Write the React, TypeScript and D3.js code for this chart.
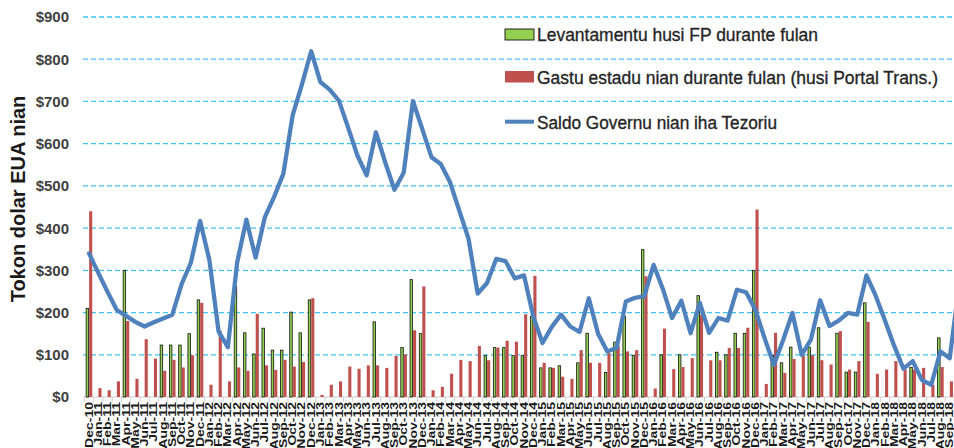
import React from "react";
import * as d3 from "d3";

const months: string[] = [
  "Dec-10",
  "Jan-11","Feb-11","Mar-11","Apr-11","May-11","Jun-11","Jul-11","Aug-11","Sep-11","Oct-11","Nov-11","Dec-11",
  "Jan-12","Feb-12","Mar-12","Apr-12","May-12","Jun-12","Jul-12","Aug-12","Sep-12","Oct-12","Nov-12","Dec-12",
  "Jan-13","Feb-13","Mar-13","Apr-13","May-13","Jun-13","Jul-13","Aug-13","Sep-13","Oct-13","Nov-13","Dec-13",
  "Jan-14","Feb-14","Mar-14","Apr-14","May-14","Jun-14","Jul-14","Aug-14","Sep-14","Oct-14","Nov-14","Dec-14",
  "Jan-15","Feb-15","Mar-15","Apr-15","May-15","Jun-15","Jul-15","Aug-15","Sep-15","Oct-15","Nov-15","Dec-15",
  "Jan-16","Feb-16","Mar-16","Apr-16","May-16","Jun-16","Jul-16","Aug-16","Sep-16","Oct-16","Nov-16","Dec-16",
  "Jan-17","Feb-17","Mar-17","Apr-17","May-17","Jun-17","Jul-17","Aug-17","Sep-17","Oct-17","Nov-17","Dec-17",
  "Jan-18","Feb-18","Mar-18","Apr-18","May-18","Jun-18","Jul-18","Aug-18","Sep-18","Oct-18",
];

// Levantamentu husi FP durante fulan (green)
const levantamentu: (number | null)[] = [
  210,
  null, null, null, 300, null, null, null, 123, 123, 123, 150, 230,
  null, null, null, 262, 152, 102, 163, 111, 111, 201, 152, 230,
  null, null, null, null, null, null, 178, null, null, 117, 278, 150,
  null, null, null, null, null, null, 98, 117, 117, 98, 98, 191,
  69, 69, 74, null, 81, 151, null, 58, 130, 191, 99, 349,
  null, 100, null, 100, null, 240, null, 106, 100, 151, 151, 300,
  null, 99, 81, 118, null, 118, 164, null, 151, 59, 59, 223,
  null, null, null, null, 70, null, null, 140, null, null,
];

// Gastu estadu nian durante fulan (red)
const gastu: (number | null)[] = [
  440,
  21, 16, 37, 180, 43, 137, 91, 62, 88, 70, 99, 223,
  29, 157, 37, 70, 62, 197, 75, 64, 88, 72, 83, 234,
  5, 29, 37, 72, 67, 75, 75, 69, 97, 101, 158, 262,
  16, 24, 55, 88, 85, 121, 87, 117, 133, 131, 196, 287,
  81, 69, 48, 43, 111, 81, 81, 104, 120, 108, 111, 286,
  20, 162, 66, 71, 92, 195, 87, 87, 116, 116, 164, 444,
  31, 152, 57, 90, 98, 99, 87, 77, 156, 65, 85, 178,
  55, 65, 85, 65, 65, 69, 29, 71, 37, null,
];

// Saldo Governu nian iha Tezoriu (blue line)
const saldo: number[] = [
  340,
  294, 249, 206, 192, 178, 167, 177, 186, 195, 267, 318, 417,
  325, 155, 118, 318, 420, 330, 426, 474, 529, 667, 740, 819,
  746, 728, 702, 638, 572, 525, 627, 556, 491, 531, 701, 635,
  568, 552, 509, 442, 375, 245, 270, 327, 322, 281, 288, 191,
  128, 166, 195, 167, 154, 234, 150, 108, 116, 226, 235, 239,
  313, 256, 187, 228, 151, 223, 152, 187, 181, 254, 248, 206,
  139, 76, 135, 199, 100, 136, 229, 168, 181, 199, 195, 288,
  240, 181, 121, 67, 85, 40, 29, 108, 92, 265,
];

const yTicks: number[] = [0, 100, 200, 300, 400, 500, 600, 700, 800, 900];
const yTitle = "Tokon dolar EUA nian";
const legendLabels: string[] = [
  "Levantamentu husi FP durante fulan",
  "Gastu estadu nian durante fulan (husi Portal Trans.)",
  "Saldo Governu nian iha Tezoriu",
];

const W = 954;
const H = 448;
const X0 = 84.4;
const STEP = 9.255;
const Y0 = 397;
const Y1 = 17;

const GREEN = "#92d050";
const RED = "#c0504d";
const BLUE = "#4f81bd";
const GRID = "#42c2f2";

export default function App() {
  const x = d3
    .scaleBand<string>()
    .domain(months)
    .range([X0, X0 + STEP * months.length])
    .padding(0);
  const y = d3.scaleLinear().domain([0, 900]).range([Y0, Y1]);
  const cx = (m: string) => (x(m) as number) + x.bandwidth() / 2;

  const lineGen = d3
    .line<number>()
    .x((_, i) => cx(months[i]))
    .y((d) => y(d));

  const font = "'Liberation Sans', Arial, sans-serif";
  const legendScale = 0.94;

  return (
    <svg
      width={W}
      height={H}
      style={{ position: "absolute", left: 0, top: 0, background: "#fff" }}
      fontFamily={font}
    >
      {/* gridlines */}
      {yTicks
        .filter((t) => t > 0)
        .map((t) => (
          <line
            key={"g" + t}
            x1={83}
            x2={W}
            y1={y(t)}
            y2={y(t)}
            stroke={GRID}
            strokeWidth={1.3}
            strokeDasharray="5,3"
          />
        ))}
      {/* baseline */}
      <line x1={83} x2={W} y1={Y0} y2={Y0} stroke="#d0d0d0" strokeWidth={1.2} />
      {months.map((m) => (
        <line
          key={"t" + m}
          x1={x(m) as number}
          x2={x(m) as number}
          y1={Y0}
          y2={Y0 + 5}
          stroke="#d0d0d0"
          strokeWidth={1}
        />
      ))}
      {/* y tick labels */}
      {yTicks.map((t) => (
        <text
          key={"yl" + t}
          x={69}
          y={y(t)}
          dy="0.36em"
          textAnchor="end"
          fontSize={15}
          fontWeight="bold"
          fill="#404040"
        >
          {"$" + t}
        </text>
      ))}
      {/* y title */}
      <text
        transform="translate(25,199) rotate(-90)"
        textAnchor="middle"
        fontSize={20}
        fontWeight="bold"
        fill="#1a1a1a"
      >
        {yTitle}
      </text>
      {/* bars */}
      {months.map((m, i) => {
        const c = cx(m);
        const g = levantamentu[i];
        const r = gastu[i];
        return (
          <g key={"b" + m}>
            {g != null && (
              <rect
                x={c - 2.9}
                y={y(g)}
                width={2.5}
                height={Y0 - y(g)}
                fill={GREEN}
                stroke="#111"
                strokeWidth={0.8}
              />
            )}
            {r != null && (
              <rect x={c + 0.1} y={y(r)} width={3.1} height={Y0 - y(r)} fill={RED} />
            )}
          </g>
        );
      })}
      {/* line */}
      <path
        d={lineGen(saldo) || ""}
        fill="none"
        stroke={BLUE}
        strokeWidth={4.3}
        strokeLinejoin="round"
        strokeLinecap="round"
      />
      {/* x labels (those whose position falls inside the picture) */}
      {months
        .filter((m) => cx(m) < W)
        .map((m) => (
          <text
            key={"xl" + m}
            transform={`translate(${cx(m) + 3.6},402) rotate(-90) scale(1.4,1)`}
            textAnchor="end"
            fontSize={10}
            fontWeight="bold"
            fill="#1a1a1a"
          >
            {m}
          </text>
        ))}
      {/* legend */}
      <rect x={505} y={29} width={29} height={11} fill={GREEN} stroke="#222" strokeWidth={1} />
      <rect x={505} y={71} width={29} height={11.5} fill={RED} />
      <line x1={505} x2={534} y1={121.7} y2={121.7} stroke={BLUE} strokeWidth={4} />
      {legendLabels.map((l, i) => (
        <text
          key={"lg" + i}
          transform={`translate(537,${[40.7, 84, 129][i]}) scale(${legendScale},1)`}
          fontSize={18.5}
          fill="#262626"
          stroke="#262626"
          strokeWidth={0.35}
          textLength={[281, 401, 240][i] / legendScale}
          lengthAdjust="spacingAndGlyphs"
        >
          {l}
        </text>
      ))}
    </svg>
  );
}
